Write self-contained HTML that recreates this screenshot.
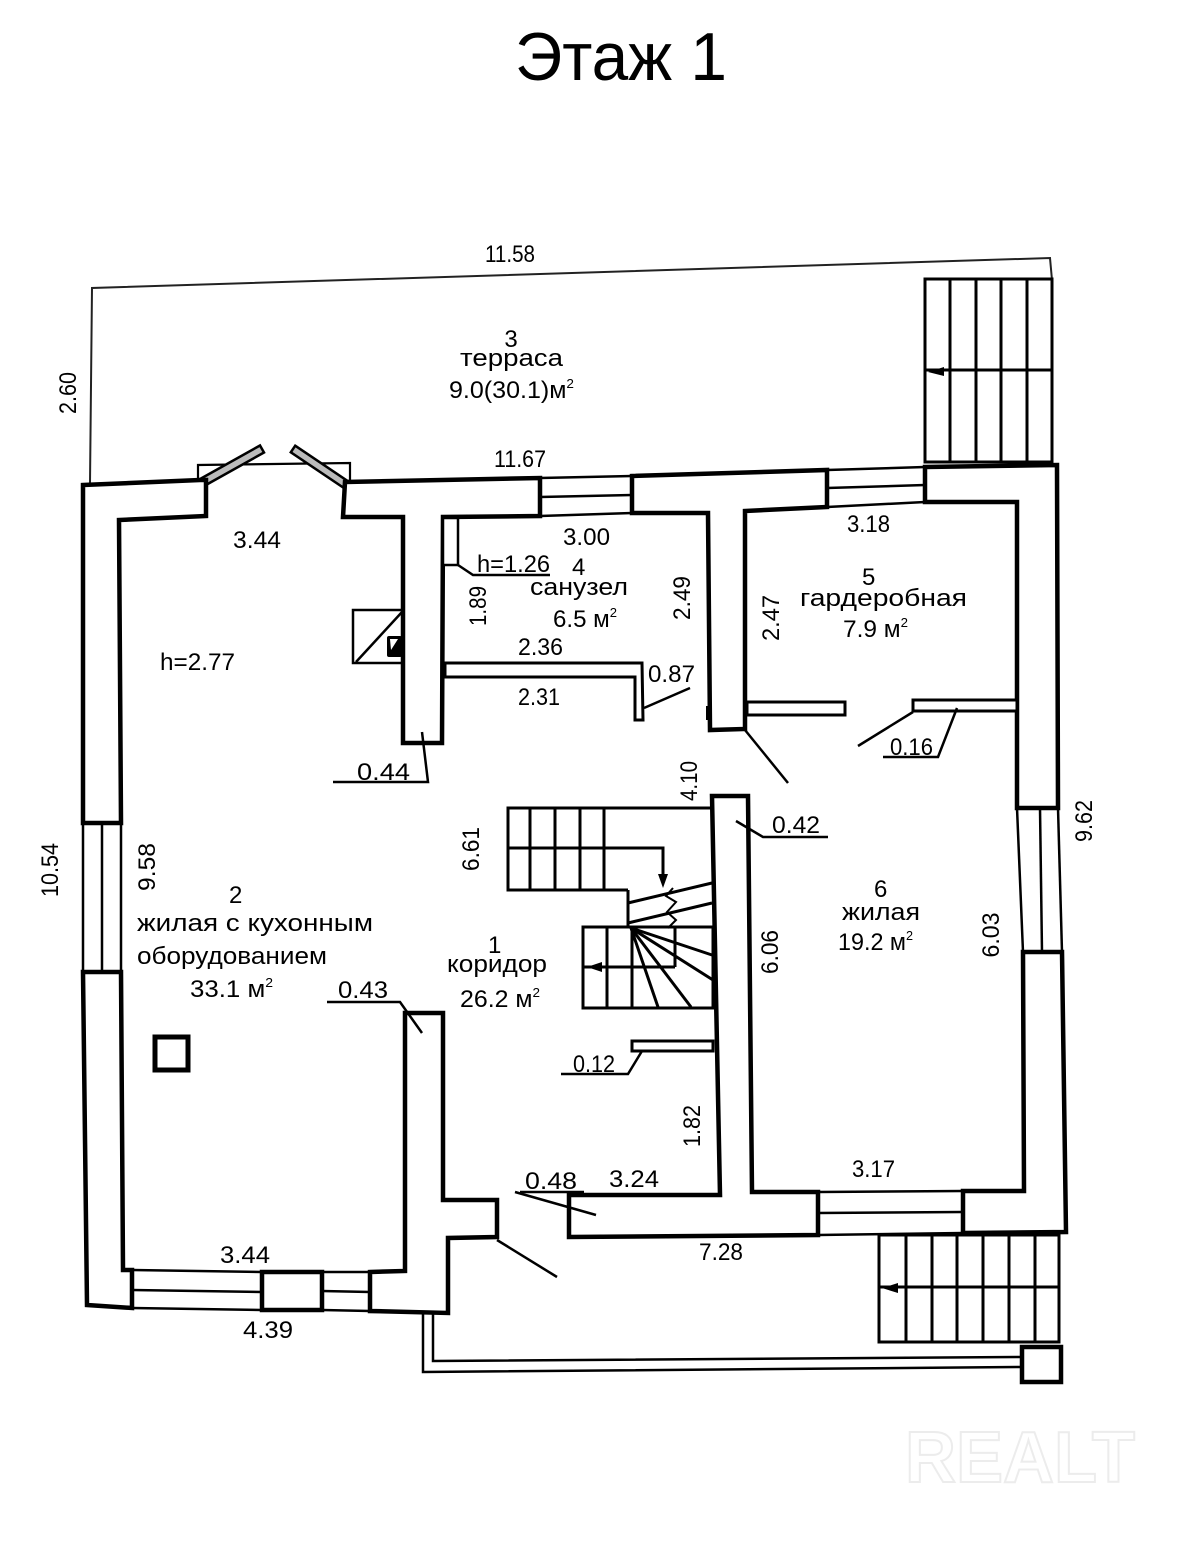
<!DOCTYPE html>
<html><head><meta charset="utf-8"><style>
html,body{margin:0;padding:0;background:#fff;}
svg{display:block;}
text{font-family:"Liberation Sans","DejaVu Sans",sans-serif;font-size:24px;fill:#000;}
</style></head><body>
<svg width="1200" height="1548" viewBox="0 0 1200 1548" xmlns="http://www.w3.org/2000/svg">
<rect width="1200" height="1548" fill="#fff"/>

<!-- Title -->
<text x="515" y="80" style="font-size:68px" textLength="212" lengthAdjust="spacingAndGlyphs">Этаж 1</text>

<!-- Terrace outline -->
<polyline points="90,483 92,288 1050,258 1052,280" fill="none" stroke="#222" stroke-width="2"/>

<!-- Top-right stairs -->
<g fill="none" stroke="#000" stroke-width="3">
<rect x="925" y="279" width="127" height="183"/>
<line x1="950" y1="279" x2="950" y2="462"/>
<line x1="976" y1="279" x2="976" y2="462"/>
<line x1="1001" y1="279" x2="1001" y2="462"/>
<line x1="1027" y1="279" x2="1027" y2="462"/>
<line x1="925" y1="370" x2="1052" y2="370"/>
</g>
<polygon points="928,372 944,367 944,376" fill="#000"/>

<!-- Bay window -->
<g fill="none" stroke="#000" stroke-width="2.2">
<polyline points="198,481 198,465 350,463 350,483"/>
</g>
<polygon points="201,478.5 260,445.5 264,452.5 205,485.5" fill="#bbb" stroke="#000" stroke-width="2.5"/>
<polygon points="295.2,445.7 347.2,480.7 342.8,487.3 290.8,452.3" fill="#bbb" stroke="#000" stroke-width="2.5"/>

<!-- Walls -->
<g fill="#fff" stroke="#000" stroke-width="4.5" stroke-linejoin="miter">
<path d="M83,485 L200,480 L206,480 L206,516 L119,520 L121,823 L83,823 Z"/>
<path d="M345,482 L540,478 L540,516 L443,517 L442,743 L403,743 L403,517 L343,517 Z"/>
<path d="M632,476 L827,470 L827,507 L745,511 L745,729 L710,730 L708,513 L632,513 Z"/>
<path d="M925,467 L1057,465 L1058,808 L1017,808 L1017,502 L925,502 Z"/>
<path d="M83,972 L121,972 L123,1270 L132,1270 L132,1308 L87,1305 Z"/>
<path d="M370,1272 L405,1271 L405,1013 L443,1013 L443,1200 L497,1200 L497,1237 L448,1238 L448,1313 L370,1311 Z"/>
<path d="M262,1272 L322,1272 L322,1310 L262,1310 Z"/>
<path d="M569,1195 L720,1195 L712,796 L748,796 L752,1192 L818,1192 L818,1235 L569,1237 Z"/>
<path d="M963,1191 L1024,1191 L1023,952 L1062,952 L1066,1232 L963,1233 Z"/>
</g>

<!-- Windows -->
<g stroke="#000" stroke-width="2.5" fill="none">
<line x1="540" y1="478" x2="632" y2="476"/><line x1="540" y1="497" x2="632" y2="495"/><line x1="540" y1="516" x2="632" y2="513"/>
<line x1="827" y1="470" x2="925" y2="467"/><line x1="827" y1="488" x2="925" y2="485"/><line x1="827" y1="507" x2="925" y2="502"/>
<line x1="83" y1="823" x2="83" y2="972"/><line x1="102" y1="823" x2="102" y2="972"/><line x1="121" y1="823" x2="121" y2="972"/>
<line x1="1058" y1="808" x2="1062" y2="952"/><line x1="1040" y1="808" x2="1042" y2="952"/><line x1="1017" y1="808" x2="1023" y2="952"/>
<line x1="818" y1="1192" x2="963" y2="1191"/><line x1="818" y1="1213" x2="963" y2="1212"/><line x1="818" y1="1235" x2="963" y2="1233"/>
<line x1="132" y1="1270" x2="262" y2="1272"/><line x1="132" y1="1290" x2="262" y2="1292"/><line x1="132" y1="1308" x2="262" y2="1310"/>
<line x1="322" y1="1272" x2="370" y2="1272"/><line x1="322" y1="1291" x2="370" y2="1292"/><line x1="322" y1="1310" x2="370" y2="1311"/>
</g>

<!-- Thin partitions -->
<g fill="#fff" stroke="#000" stroke-width="3">
<path d="M445,663 L642,663 L643,720 L635,720 L635,677 L445,677 Z"/>
<rect x="747" y="702" width="98" height="13"/>
<rect x="913" y="700" width="104" height="11"/>
<rect x="632" y="1041" width="81" height="10"/>
<rect x="443" y="518" width="15" height="47" stroke-width="2.5"/>
</g>
<rect x="706" y="706" width="6" height="14" fill="#000"/>

<!-- Chimney -->
<rect x="353" y="610" width="49" height="53" fill="#fff" stroke="#000" stroke-width="2.5"/>
<line x1="356" y1="662" x2="402" y2="612" stroke="#000" stroke-width="2.5"/>
<rect x="387" y="636" width="15" height="21" rx="2" fill="#000"/>
<polygon points="390,639 398,639 391,650" fill="#fff"/>

<!-- Kitchen square -->
<rect x="155" y="1037" width="33" height="33" fill="none" stroke="#000" stroke-width="5"/>

<!-- Interior stairs -->
<g fill="none" stroke="#000" stroke-width="3">
<polyline points="713,808 508,808 508,890 628,890"/>
<line x1="530" y1="808" x2="530" y2="890"/>
<line x1="555" y1="808" x2="555" y2="890"/>
<line x1="580" y1="808" x2="580" y2="890"/>
<line x1="604" y1="808" x2="604" y2="890"/>
<polyline points="508,848 663,848 663,882"/>
<line x1="628" y1="890" x2="628" y2="927"/>
<line x1="628" y1="903" x2="712" y2="883"/>
<line x1="628" y1="923" x2="712" y2="903"/>
<rect x="583" y="927" width="130" height="81"/>
<line x1="607" y1="927" x2="607" y2="1008"/>
<line x1="632" y1="927" x2="632" y2="1008"/>
<line x1="583" y1="967" x2="675" y2="967"/>
<line x1="675" y1="927" x2="675" y2="967"/>
<line x1="631" y1="928" x2="712" y2="955"/>
<line x1="631" y1="928" x2="713" y2="980"/>
<line x1="631" y1="928" x2="691" y2="1007"/>
<line x1="631" y1="928" x2="658" y2="1007"/>
</g>
<polygon points="663,888 658,874 668,874" fill="#000"/>
<polygon points="587,967 602,962 602,972" fill="#000"/>
<g fill="#fff" stroke="#000" stroke-width="2">
<polyline points="673,888 666,896 676,902 667,912 676,920 668,928" fill="none"/>
</g>

<!-- Bottom-right stairs -->
<g fill="none" stroke="#000" stroke-width="3">
<rect x="879" y="1235" width="180" height="107"/>
<line x1="906" y1="1235" x2="906" y2="1342"/>
<line x1="932" y1="1235" x2="932" y2="1342"/>
<line x1="957" y1="1235" x2="957" y2="1342"/>
<line x1="983" y1="1235" x2="983" y2="1342"/>
<line x1="1009" y1="1235" x2="1009" y2="1342"/>
<line x1="1035" y1="1235" x2="1035" y2="1342"/>
<line x1="879" y1="1287" x2="1059" y2="1287"/>
</g>
<polygon points="882,1288 898,1283 898,1293" fill="#000"/>

<!-- Rails and post -->
<g fill="none" stroke="#000" stroke-width="2.5">
<polyline points="423,1312 423,1372 1022,1367"/>
<polyline points="433,1312 433,1361 1022,1357"/>
</g>
<rect x="1022" y="1347" width="39" height="35" fill="#fff" stroke="#000" stroke-width="4.5"/>

<!-- Door swings & leaders -->
<g fill="none" stroke="#000" stroke-width="2.5">
<line x1="497" y1="1240" x2="557" y2="1277"/>
<line x1="745" y1="730" x2="788" y2="783"/>
<line x1="913" y1="712" x2="858" y2="746"/>
<polyline points="458,565 473,575 550,575"/>
<polyline points="515,1192 596,1215"/>
<line x1="520" y1="1192" x2="584" y2="1192"/>
<polyline points="327,1002 400,1002 422,1033"/>
<polyline points="422,732 428,782 333,782"/>
<polyline points="736,821 763,837 828,837"/>
<polyline points="957,708 938,757 883,757"/>
<polyline points="642,1051 628,1074 561,1074"/>
<line x1="644" y1="708" x2="690" y2="688"/>
</g>

<!-- Horizontal labels -->
<text x="485" y="262" textLength="50" lengthAdjust="spacingAndGlyphs">11.58</text>
<text x="494" y="467" textLength="52" lengthAdjust="spacingAndGlyphs">11.67</text>
<text x="511" y="347" text-anchor="middle">3</text>
<text x="460" y="366" textLength="103" lengthAdjust="spacingAndGlyphs">терраса</text>
<text x="449" y="398" textLength="125" lengthAdjust="spacingAndGlyphs">9.0(30.1)м<tspan dy="-10" style="font-size:13px">2</tspan></text>
<text x="233" y="548" textLength="48" lengthAdjust="spacingAndGlyphs">3.44</text>
<text x="160" y="670" textLength="75" lengthAdjust="spacingAndGlyphs">h=2.77</text>
<text x="563" y="545" textLength="47" lengthAdjust="spacingAndGlyphs">3.00</text>
<text x="477" y="572" textLength="73" lengthAdjust="spacingAndGlyphs">h=1.26</text>
<text x="572" y="575">4</text>
<text x="530" y="595" textLength="98" lengthAdjust="spacingAndGlyphs">санузел</text>
<text x="553" y="627" textLength="64" lengthAdjust="spacingAndGlyphs">6.5 м<tspan dy="-10" style="font-size:13px">2</tspan></text>
<text x="518" y="655" textLength="45" lengthAdjust="spacingAndGlyphs">2.36</text>
<text x="518" y="705" textLength="42" lengthAdjust="spacingAndGlyphs">2.31</text>
<text x="648" y="682" textLength="47" lengthAdjust="spacingAndGlyphs">0.87</text>
<text x="357" y="780" textLength="53" lengthAdjust="spacingAndGlyphs">0.44</text>
<text x="847" y="532" textLength="43" lengthAdjust="spacingAndGlyphs">3.18</text>
<text x="862" y="585">5</text>
<text x="800" y="606" textLength="167" lengthAdjust="spacingAndGlyphs">гардеробная</text>
<text x="843" y="637" textLength="65" lengthAdjust="spacingAndGlyphs">7.9 м<tspan dy="-10" style="font-size:13px">2</tspan></text>
<text x="890" y="755" textLength="43" lengthAdjust="spacingAndGlyphs">0.16</text>
<text x="772" y="833" textLength="48" lengthAdjust="spacingAndGlyphs">0.42</text>
<text x="874" y="897">6</text>
<text x="842" y="920" textLength="78" lengthAdjust="spacingAndGlyphs">жилая</text>
<text x="838" y="950" textLength="75" lengthAdjust="spacingAndGlyphs">19.2 м<tspan dy="-10" style="font-size:13px">2</tspan></text>
<text x="852" y="1177" textLength="43" lengthAdjust="spacingAndGlyphs">3.17</text>
<text x="229" y="903">2</text>
<text x="137" y="931" textLength="236" lengthAdjust="spacingAndGlyphs">жилая с кухонным</text>
<text x="137" y="964" textLength="190" lengthAdjust="spacingAndGlyphs">оборудованием</text>
<text x="190" y="997" textLength="83" lengthAdjust="spacingAndGlyphs">33.1 м<tspan dy="-10" style="font-size:13px">2</tspan></text>
<text x="338" y="998" textLength="50" lengthAdjust="spacingAndGlyphs">0.43</text>
<text x="488" y="953">1</text>
<text x="447" y="972" textLength="100" lengthAdjust="spacingAndGlyphs">коридор</text>
<text x="460" y="1007" textLength="80" lengthAdjust="spacingAndGlyphs">26.2 м<tspan dy="-10" style="font-size:13px">2</tspan></text>
<text x="573" y="1072" textLength="42" lengthAdjust="spacingAndGlyphs">0.12</text>
<text x="525" y="1189" textLength="52" lengthAdjust="spacingAndGlyphs">0.48</text>
<text x="609" y="1187" textLength="50" lengthAdjust="spacingAndGlyphs">3.24</text>
<text x="699" y="1260" textLength="44" lengthAdjust="spacingAndGlyphs">7.28</text>
<text x="220" y="1263" textLength="50" lengthAdjust="spacingAndGlyphs">3.44</text>
<text x="243" y="1338" textLength="50" lengthAdjust="spacingAndGlyphs">4.39</text>

<!-- Rotated labels -->
<g text-anchor="middle">
<text x="68" y="401" transform="rotate(-90 68 393)" textLength="42" lengthAdjust="spacingAndGlyphs">2.60</text>
<text x="50" y="878" transform="rotate(-90 50 870)" textLength="54" lengthAdjust="spacingAndGlyphs">10.54</text>
<text x="147" y="875" transform="rotate(-90 147 867)" textLength="48" lengthAdjust="spacingAndGlyphs">9.58</text>
<text x="471" y="857" transform="rotate(-90 471 849)" textLength="44" lengthAdjust="spacingAndGlyphs">6.61</text>
<text x="478" y="614" transform="rotate(-90 478 606)" textLength="40" lengthAdjust="spacingAndGlyphs">1.89</text>
<text x="682" y="606" transform="rotate(-90 682 598)" textLength="44" lengthAdjust="spacingAndGlyphs">2.49</text>
<text x="771" y="626" transform="rotate(-90 771 618)" textLength="46" lengthAdjust="spacingAndGlyphs">2.47</text>
<text x="689" y="789" transform="rotate(-90 689 781)" textLength="40" lengthAdjust="spacingAndGlyphs">4.10</text>
<text x="770" y="960" transform="rotate(-90 770 952)" textLength="44" lengthAdjust="spacingAndGlyphs">6.06</text>
<text x="991" y="943" transform="rotate(-90 991 935)" textLength="45" lengthAdjust="spacingAndGlyphs">6.03</text>
<text x="1084" y="829" transform="rotate(-90 1084 821)" textLength="42" lengthAdjust="spacingAndGlyphs">9.62</text>
<text x="692" y="1134" transform="rotate(-90 692 1126)" textLength="42" lengthAdjust="spacingAndGlyphs">1.82</text>
</g>

<!-- Faint watermark -->
<text x="905" y="1482" style="font-size:72px;font-weight:bold;fill:#fff;stroke:#ececec;stroke-width:2" textLength="230" lengthAdjust="spacingAndGlyphs">REALT</text>
</svg>
</body></html>
